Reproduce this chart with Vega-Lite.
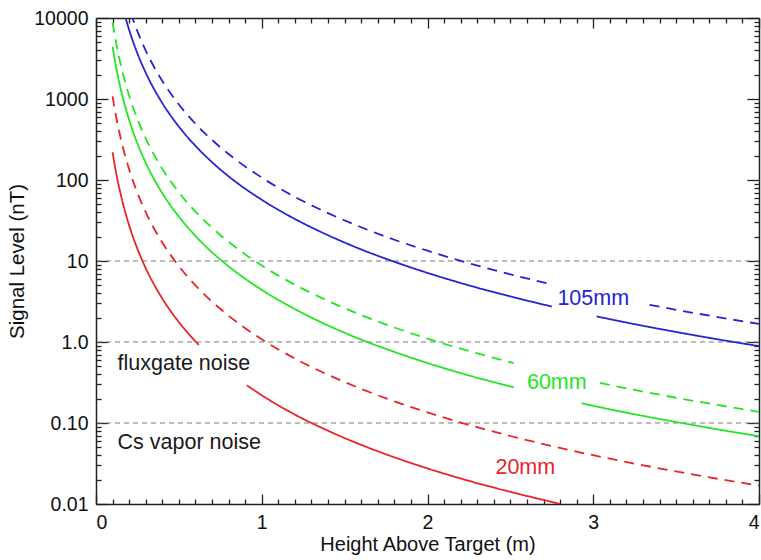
{
  "$schema": "https://vega.github.io/schema/vega-lite/v6.json",
  "autosize": {"type": "none"},
  "padding": {"left": 96, "top": 18, "right": 2, "bottom": 56},
  "width": 663,
  "height": 486,
  "background": "white",
  "config": {
    "view": {"stroke": null},
    "font": "Liberation Sans",
    "axis": {
      "grid": false,
      "domainColor": "#222222",
      "domainWidth": 1.5,
      "tickColor": "#222222",
      "tickWidth": 1.3,
      "labelFont": "Liberation Sans",
      "labelFontSize": 19.5,
      "labelColor": "#111111",
      "titleFont": "Liberation Sans",
      "titleFontSize": 20.5,
      "titleFontWeight": "normal",
      "titleColor": "#111111"
    }
  },
  "datasets": {
    "curves": [
      {"size": "20mm", "style": "solid", "seg": "20s1", "x": 0.1, "y": 220},
      {"size": "20mm", "style": "solid", "seg": "20s1", "x": 0.12, "y": 127},
      {"size": "20mm", "style": "solid", "seg": "20s1", "x": 0.15, "y": 65.2},
      {"size": "20mm", "style": "solid", "seg": "20s1", "x": 0.2, "y": 27.5},
      {"size": "20mm", "style": "solid", "seg": "20s1", "x": 0.25, "y": 14.1},
      {"size": "20mm", "style": "solid", "seg": "20s1", "x": 0.3, "y": 8.15},
      {"size": "20mm", "style": "solid", "seg": "20s1", "x": 0.4, "y": 3.44},
      {"size": "20mm", "style": "solid", "seg": "20s1", "x": 0.5, "y": 1.76},
      {"size": "20mm", "style": "solid", "seg": "20s1", "x": 0.62, "y": 0.92},
      {"size": "20mm", "style": "solid", "seg": "20s2", "x": 0.91, "y": 0.292},
      {"size": "20mm", "style": "solid", "seg": "20s2", "x": 1.0, "y": 0.22},
      {"size": "20mm", "style": "solid", "seg": "20s2", "x": 1.2, "y": 0.127},
      {"size": "20mm", "style": "solid", "seg": "20s2", "x": 1.4, "y": 0.0802},
      {"size": "20mm", "style": "solid", "seg": "20s2", "x": 1.6, "y": 0.0537},
      {"size": "20mm", "style": "solid", "seg": "20s2", "x": 1.8, "y": 0.0377},
      {"size": "20mm", "style": "solid", "seg": "20s2", "x": 2.0, "y": 0.0275},
      {"size": "20mm", "style": "solid", "seg": "20s2", "x": 2.25, "y": 0.0193},
      {"size": "20mm", "style": "solid", "seg": "20s2", "x": 2.5, "y": 0.0141},
      {"size": "20mm", "style": "solid", "seg": "20s2", "x": 2.75, "y": 0.0106},
      {"size": "20mm", "style": "solid", "seg": "20s2", "x": 2.8, "y": 0.01},

      {"size": "20mm", "style": "dashed", "seg": "20d", "x": 0.1, "y": 1080},
      {"size": "20mm", "style": "dashed", "seg": "20d", "x": 0.12, "y": 625},
      {"size": "20mm", "style": "dashed", "seg": "20d", "x": 0.15, "y": 320},
      {"size": "20mm", "style": "dashed", "seg": "20d", "x": 0.2, "y": 135},
      {"size": "20mm", "style": "dashed", "seg": "20d", "x": 0.25, "y": 69.1},
      {"size": "20mm", "style": "dashed", "seg": "20d", "x": 0.3, "y": 40},
      {"size": "20mm", "style": "dashed", "seg": "20d", "x": 0.4, "y": 16.9},
      {"size": "20mm", "style": "dashed", "seg": "20d", "x": 0.5, "y": 8.64},
      {"size": "20mm", "style": "dashed", "seg": "20d", "x": 0.6, "y": 5.0},
      {"size": "20mm", "style": "dashed", "seg": "20d", "x": 0.7, "y": 3.15},
      {"size": "20mm", "style": "dashed", "seg": "20d", "x": 0.8, "y": 2.11},
      {"size": "20mm", "style": "dashed", "seg": "20d", "x": 1.0, "y": 1.08},
      {"size": "20mm", "style": "dashed", "seg": "20d", "x": 1.2, "y": 0.625},
      {"size": "20mm", "style": "dashed", "seg": "20d", "x": 1.4, "y": 0.394},
      {"size": "20mm", "style": "dashed", "seg": "20d", "x": 1.6, "y": 0.264},
      {"size": "20mm", "style": "dashed", "seg": "20d", "x": 1.8, "y": 0.185},
      {"size": "20mm", "style": "dashed", "seg": "20d", "x": 2.0, "y": 0.135},
      {"size": "20mm", "style": "dashed", "seg": "20d", "x": 2.25, "y": 0.0948},
      {"size": "20mm", "style": "dashed", "seg": "20d", "x": 2.5, "y": 0.0691},
      {"size": "20mm", "style": "dashed", "seg": "20d", "x": 2.75, "y": 0.0519},
      {"size": "20mm", "style": "dashed", "seg": "20d", "x": 3.0, "y": 0.04},
      {"size": "20mm", "style": "dashed", "seg": "20d", "x": 3.25, "y": 0.0315},
      {"size": "20mm", "style": "dashed", "seg": "20d", "x": 3.5, "y": 0.0252},
      {"size": "20mm", "style": "dashed", "seg": "20d", "x": 3.75, "y": 0.0205},
      {"size": "20mm", "style": "dashed", "seg": "20d", "x": 4.0, "y": 0.0169},

      {"size": "60mm", "style": "solid", "seg": "60s1", "x": 0.1, "y": 4400},
      {"size": "60mm", "style": "solid", "seg": "60s1", "x": 0.12, "y": 2546},
      {"size": "60mm", "style": "solid", "seg": "60s1", "x": 0.15, "y": 1304},
      {"size": "60mm", "style": "solid", "seg": "60s1", "x": 0.2, "y": 550},
      {"size": "60mm", "style": "solid", "seg": "60s1", "x": 0.25, "y": 282},
      {"size": "60mm", "style": "solid", "seg": "60s1", "x": 0.3, "y": 163},
      {"size": "60mm", "style": "solid", "seg": "60s1", "x": 0.4, "y": 68.8},
      {"size": "60mm", "style": "solid", "seg": "60s1", "x": 0.5, "y": 35.2},
      {"size": "60mm", "style": "solid", "seg": "60s1", "x": 0.6, "y": 20.4},
      {"size": "60mm", "style": "solid", "seg": "60s1", "x": 0.7, "y": 12.8},
      {"size": "60mm", "style": "solid", "seg": "60s1", "x": 0.8, "y": 8.59},
      {"size": "60mm", "style": "solid", "seg": "60s1", "x": 1.0, "y": 4.4},
      {"size": "60mm", "style": "solid", "seg": "60s1", "x": 1.2, "y": 2.55},
      {"size": "60mm", "style": "solid", "seg": "60s1", "x": 1.4, "y": 1.6},
      {"size": "60mm", "style": "solid", "seg": "60s1", "x": 1.6, "y": 1.07},
      {"size": "60mm", "style": "solid", "seg": "60s1", "x": 1.8, "y": 0.755},
      {"size": "60mm", "style": "solid", "seg": "60s1", "x": 2.0, "y": 0.55},
      {"size": "60mm", "style": "solid", "seg": "60s1", "x": 2.25, "y": 0.386},
      {"size": "60mm", "style": "solid", "seg": "60s1", "x": 2.52, "y": 0.275},
      {"size": "60mm", "style": "solid", "seg": "60s2", "x": 2.93, "y": 0.175},
      {"size": "60mm", "style": "solid", "seg": "60s2", "x": 3.0, "y": 0.163},
      {"size": "60mm", "style": "solid", "seg": "60s2", "x": 3.25, "y": 0.128},
      {"size": "60mm", "style": "solid", "seg": "60s2", "x": 3.5, "y": 0.103},
      {"size": "60mm", "style": "solid", "seg": "60s2", "x": 3.75, "y": 0.0834},
      {"size": "60mm", "style": "solid", "seg": "60s2", "x": 4.0, "y": 0.0688},

      {"size": "60mm", "style": "dashed", "seg": "60d1", "x": 0.1, "y": 8800},
      {"size": "60mm", "style": "dashed", "seg": "60d1", "x": 0.12, "y": 5093},
      {"size": "60mm", "style": "dashed", "seg": "60d1", "x": 0.15, "y": 2607},
      {"size": "60mm", "style": "dashed", "seg": "60d1", "x": 0.2, "y": 1100},
      {"size": "60mm", "style": "dashed", "seg": "60d1", "x": 0.25, "y": 563},
      {"size": "60mm", "style": "dashed", "seg": "60d1", "x": 0.3, "y": 326},
      {"size": "60mm", "style": "dashed", "seg": "60d1", "x": 0.4, "y": 137.5},
      {"size": "60mm", "style": "dashed", "seg": "60d1", "x": 0.5, "y": 70.4},
      {"size": "60mm", "style": "dashed", "seg": "60d1", "x": 0.6, "y": 40.7},
      {"size": "60mm", "style": "dashed", "seg": "60d1", "x": 0.7, "y": 25.7},
      {"size": "60mm", "style": "dashed", "seg": "60d1", "x": 0.8, "y": 17.2},
      {"size": "60mm", "style": "dashed", "seg": "60d1", "x": 1.0, "y": 8.8},
      {"size": "60mm", "style": "dashed", "seg": "60d1", "x": 1.2, "y": 5.09},
      {"size": "60mm", "style": "dashed", "seg": "60d1", "x": 1.4, "y": 3.21},
      {"size": "60mm", "style": "dashed", "seg": "60d1", "x": 1.6, "y": 2.15},
      {"size": "60mm", "style": "dashed", "seg": "60d1", "x": 1.8, "y": 1.51},
      {"size": "60mm", "style": "dashed", "seg": "60d1", "x": 2.0, "y": 1.1},
      {"size": "60mm", "style": "dashed", "seg": "60d1", "x": 2.25, "y": 0.773},
      {"size": "60mm", "style": "dashed", "seg": "60d1", "x": 2.52, "y": 0.55},
      {"size": "60mm", "style": "dashed", "seg": "60d2", "x": 3.04, "y": 0.313},
      {"size": "60mm", "style": "dashed", "seg": "60d2", "x": 3.25, "y": 0.256},
      {"size": "60mm", "style": "dashed", "seg": "60d2", "x": 3.5, "y": 0.205},
      {"size": "60mm", "style": "dashed", "seg": "60d2", "x": 3.75, "y": 0.167},
      {"size": "60mm", "style": "dashed", "seg": "60d2", "x": 4.0, "y": 0.1375},

      {"size": "105mm", "style": "solid", "seg": "105s1", "x": 0.17, "y": 11600},
      {"size": "105mm", "style": "solid", "seg": "105s1", "x": 0.2, "y": 7125},
      {"size": "105mm", "style": "solid", "seg": "105s1", "x": 0.25, "y": 3648},
      {"size": "105mm", "style": "solid", "seg": "105s1", "x": 0.3, "y": 2111},
      {"size": "105mm", "style": "solid", "seg": "105s1", "x": 0.4, "y": 891},
      {"size": "105mm", "style": "solid", "seg": "105s1", "x": 0.5, "y": 456},
      {"size": "105mm", "style": "solid", "seg": "105s1", "x": 0.6, "y": 264},
      {"size": "105mm", "style": "solid", "seg": "105s1", "x": 0.7, "y": 166},
      {"size": "105mm", "style": "solid", "seg": "105s1", "x": 0.8, "y": 111},
      {"size": "105mm", "style": "solid", "seg": "105s1", "x": 1.0, "y": 57},
      {"size": "105mm", "style": "solid", "seg": "105s1", "x": 1.2, "y": 33},
      {"size": "105mm", "style": "solid", "seg": "105s1", "x": 1.4, "y": 20.8},
      {"size": "105mm", "style": "solid", "seg": "105s1", "x": 1.6, "y": 13.9},
      {"size": "105mm", "style": "solid", "seg": "105s1", "x": 1.8, "y": 9.78},
      {"size": "105mm", "style": "solid", "seg": "105s1", "x": 2.0, "y": 7.13},
      {"size": "105mm", "style": "solid", "seg": "105s1", "x": 2.25, "y": 5.0},
      {"size": "105mm", "style": "solid", "seg": "105s1", "x": 2.5, "y": 3.65},
      {"size": "105mm", "style": "solid", "seg": "105s1", "x": 2.75, "y": 2.74},
      {"size": "105mm", "style": "solid", "seg": "105s2", "x": 3.02, "y": 2.07},
      {"size": "105mm", "style": "solid", "seg": "105s2", "x": 3.25, "y": 1.66},
      {"size": "105mm", "style": "solid", "seg": "105s2", "x": 3.5, "y": 1.33},
      {"size": "105mm", "style": "solid", "seg": "105s2", "x": 3.75, "y": 1.08},
      {"size": "105mm", "style": "solid", "seg": "105s2", "x": 4.0, "y": 0.89},

      {"size": "105mm", "style": "dashed", "seg": "105d1", "x": 0.21, "y": 11550},
      {"size": "105mm", "style": "dashed", "seg": "105d1", "x": 0.25, "y": 6848},
      {"size": "105mm", "style": "dashed", "seg": "105d1", "x": 0.3, "y": 3963},
      {"size": "105mm", "style": "dashed", "seg": "105d1", "x": 0.4, "y": 1672},
      {"size": "105mm", "style": "dashed", "seg": "105d1", "x": 0.5, "y": 856},
      {"size": "105mm", "style": "dashed", "seg": "105d1", "x": 0.6, "y": 495},
      {"size": "105mm", "style": "dashed", "seg": "105d1", "x": 0.7, "y": 312},
      {"size": "105mm", "style": "dashed", "seg": "105d1", "x": 0.8, "y": 209},
      {"size": "105mm", "style": "dashed", "seg": "105d1", "x": 1.0, "y": 107},
      {"size": "105mm", "style": "dashed", "seg": "105d1", "x": 1.2, "y": 61.9},
      {"size": "105mm", "style": "dashed", "seg": "105d1", "x": 1.4, "y": 39.0},
      {"size": "105mm", "style": "dashed", "seg": "105d1", "x": 1.6, "y": 26.1},
      {"size": "105mm", "style": "dashed", "seg": "105d1", "x": 1.8, "y": 18.3},
      {"size": "105mm", "style": "dashed", "seg": "105d1", "x": 2.0, "y": 13.4},
      {"size": "105mm", "style": "dashed", "seg": "105d1", "x": 2.25, "y": 9.39},
      {"size": "105mm", "style": "dashed", "seg": "105d1", "x": 2.5, "y": 6.85},
      {"size": "105mm", "style": "dashed", "seg": "105d1", "x": 2.75, "y": 5.14},
      {"size": "105mm", "style": "dashed", "seg": "105d2", "x": 3.34, "y": 2.87},
      {"size": "105mm", "style": "dashed", "seg": "105d2", "x": 3.5, "y": 2.5},
      {"size": "105mm", "style": "dashed", "seg": "105d2", "x": 3.75, "y": 2.03},
      {"size": "105mm", "style": "dashed", "seg": "105d2", "x": 4.0, "y": 1.67}
    ],
    "levels": [
      {"level": 10},
      {"level": 1},
      {"level": 0.1}
    ],
    "sizeLabels": [
      {"size": "105mm", "label": "105mm", "x": 3.0, "y": 3.4},
      {"size": "60mm", "label": "60mm", "x": 2.78, "y": 0.31},
      {"size": "20mm", "label": "20mm", "x": 2.59, "y": 0.0275}
    ],
    "noiseLabels": [
      {"label": "fluxgate noise", "x": 0.13, "y": 0.53},
      {"label": "Cs vapor noise", "x": 0.13, "y": 0.056}
    ]
  },
  "resolve": {
    "scale": {"x": "shared", "y": "shared", "color": "shared"},
    "axis": {"x": "independent", "y": "independent"}
  },
  "layer": [
    {
      "data": {"name": "levels"},
      "mark": {"type": "rule", "color": "#7a7a7a", "strokeDash": [5, 4], "strokeWidth": 1.2},
      "encoding": {
        "y": {
          "field": "level", "type": "quantitative",
          "scale": {"type": "log", "domain": [0.01, 10000], "nice": false},
          "axis": {
            "orient": "left", "title": null, "labels": false, "domain": false,
            "tickSize": -5,
            "values": [0.02,0.03,0.04,0.05,0.06,0.07,0.08,0.09,0.2,0.3,0.4,0.5,0.6,0.7,0.8,0.9,2,3,4,5,6,7,8,9,20,30,40,50,60,70,80,90,200,300,400,500,600,700,800,900,2000,3000,4000,5000,6000,7000,8000,9000]
          }
        }
      }
    },
    {
      "data": {"name": "curves"},
      "mark": {"type": "line", "clip": true, "strokeWidth": 1.8, "interpolate": "monotone"},
      "encoding": {
        "x": {
          "field": "x", "type": "quantitative",
          "scale": {"domain": [0, 4], "nice": false, "zero": false},
          "axis": {
            "orient": "bottom", "title": "Height Above Target (m)",
            "values": [0, 1, 2, 3, 4], "format": "d",
            "tickSize": -10, "labelPadding": 19, "titlePadding": 3, "titleFontSize": 20
          }
        },
        "y": {
          "field": "y", "type": "quantitative",
          "scale": {"type": "log", "domain": [0.01, 10000], "nice": false},
          "axis": {
            "orient": "left", "title": "Signal Level (nT)",
            "values": [0.01, 0.1, 1, 10, 100, 1000, 10000],
            "labelExpr": "datum.value < 0.05 ? '0.01' : datum.value < 0.5 ? '0.10' : datum.value < 5 ? '1.0' : format(datum.value, 'd')",
            "tickSize": -12, "labelPadding": 20, "titlePadding": 6
          }
        },
        "color": {
          "field": "size", "type": "nominal",
          "scale": {"domain": ["105mm", "60mm", "20mm"], "range": ["#2424d2", "#22e622", "#e8232b"]},
          "legend": null
        },
        "strokeDash": {
          "field": "style", "type": "nominal",
          "scale": {"domain": ["solid", "dashed"], "range": [[1, 0], [10, 7]]},
          "legend": null
        },
        "detail": {"field": "seg", "type": "nominal"},
        "order": {"field": "x", "type": "quantitative"}
      }
    },
    {
      "data": {"name": "sizeLabels"},
      "mark": {"type": "text", "font": "Liberation Sans", "fontSize": 21.5, "align": "center", "baseline": "middle"},
      "encoding": {
        "x": {
          "field": "x", "type": "quantitative",
          "axis": {
            "orient": "bottom", "title": null, "labels": false, "domain": false,
            "tickSize": -5,
            "values": [0.1,0.2,0.3,0.4,0.5,0.6,0.7,0.8,0.9,1.1,1.2,1.3,1.4,1.5,1.6,1.7,1.8,1.9,2.1,2.2,2.3,2.4,2.5,2.6,2.7,2.8,2.9,3.1,3.2,3.3,3.4,3.5,3.6,3.7,3.8,3.9]
          }
        },
        "y": {
          "field": "y", "type": "quantitative",
          "axis": {
            "orient": "right", "title": null, "labels": false,
            "tickSize": -12,
            "values": [0.01, 0.1, 1, 10, 100, 1000, 10000]
          }
        },
        "text": {"field": "label", "type": "nominal"},
        "color": {"field": "size", "type": "nominal", "legend": null}
      }
    },
    {
      "data": {"name": "noiseLabels"},
      "mark": {"type": "text", "font": "Liberation Sans", "fontSize": 21.5, "align": "left", "baseline": "middle", "color": "#1a1a1a"},
      "encoding": {
        "x": {
          "field": "x", "type": "quantitative",
          "axis": {
            "orient": "top", "title": null, "labels": false,
            "tickSize": -10,
            "values": [0, 1, 2, 3, 4]
          }
        },
        "y": {
          "field": "y", "type": "quantitative",
          "axis": {
            "orient": "right", "title": null, "labels": false, "domain": false,
            "tickSize": -5,
            "values": [0.02,0.03,0.04,0.05,0.06,0.07,0.08,0.09,0.2,0.3,0.4,0.5,0.6,0.7,0.8,0.9,2,3,4,5,6,7,8,9,20,30,40,50,60,70,80,90,200,300,400,500,600,700,800,900,2000,3000,4000,5000,6000,7000,8000,9000]
          }
        },
        "text": {"field": "label", "type": "nominal"}
      }
    },
    {
      "data": {"name": "noiseLabels"},
      "mark": {"type": "point", "opacity": 0},
      "encoding": {
        "x": {
          "field": "x", "type": "quantitative",
          "axis": {
            "orient": "top", "title": null, "labels": false, "domain": false,
            "tickSize": -5,
            "values": [0.1,0.2,0.3,0.4,0.5,0.6,0.7,0.8,0.9,1.1,1.2,1.3,1.4,1.5,1.6,1.7,1.8,1.9,2.1,2.2,2.3,2.4,2.5,2.6,2.7,2.8,2.9,3.1,3.2,3.3,3.4,3.5,3.6,3.7,3.8,3.9]
          }
        },
        "y": {"field": "y", "type": "quantitative", "axis": null}
      }
    }
  ]
}
